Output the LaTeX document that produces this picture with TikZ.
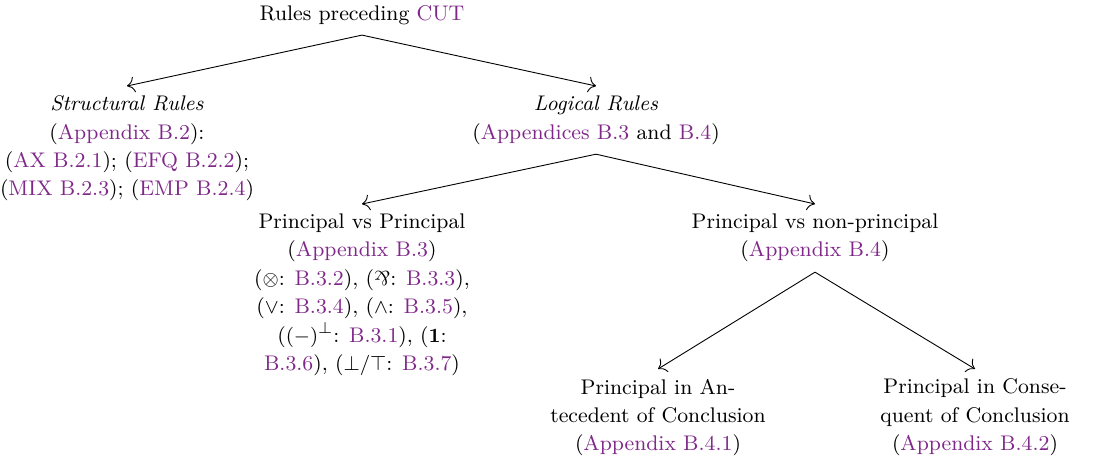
\documentclass[tikz,border=0pt]{standalone}
\usepackage{amsmath,amssymb}
\usepackage{graphicx}
\usetikzlibrary{arrows.meta}
\definecolor{acmpurple}{RGB}{128,40,138}
\newcommand{\lk}[1]{\textcolor{acmpurple}{#1}}
\newcommand{\myparr}{\mathbin{\rotatebox[origin=c]{180}{$\&$}}}
\begin{document}
\begin{tikzpicture}[x=0.444pt,y=-0.444pt]
\tikzset{
  tn/.style={align=center,font=\fontsize{9.4}{12.6}\selectfont,inner xsep=2pt,inner ysep=4.2pt,anchor=north},
  arr/.style={-{To[scale=1.35]},line width=0.4pt}
}
\useasboundingbox (0,0) rectangle (1095,466);
\node[tn] (root) at (362,-4) {Rules preceding \lk{CUT}};
\node[tn] (struct) at (127,86) {\textit{Structural Rules}\\(\lk{Appendix B.2}):\\(\lk{AX B.2.1}); (\lk{EFQ B.2.2});\\(\lk{MIX B.2.3}); (\lk{EMP B.2.4})};
\node[tn] (logic) at (596,86) {\textit{Logical Rules}\\(\lk{Appendices B.3} and \lk{B.4})};
\node[tn] (pvp) at (362,204) {Principal vs Principal\\(\lk{Appendix B.3})\\($\otimes$: \lk{B.3.2}), ($\myparr$: \lk{B.3.3}),\\($\vee$: \lk{B.3.4}), ($\wedge$: \lk{B.3.5}),\\($(-)^{\perp}$: \lk{B.3.1}), ($\mathbf{1}$:\\\lk{B.3.6}), ($\bot/\top$: \lk{B.3.7})};
\node[tn] (pvnp) at (815,204) {Principal vs non-principal\\(\lk{Appendix B.4})};
\node[tn] (pina) at (658,369) {Principal in An-\\tecedent of Conclusion\\(\lk{Appendix B.4.1})};
\node[tn] (pinc) at (975,369) {Principal in Conse-\\quent of Conclusion\\(\lk{Appendix B.4.2})};
\draw[arr] (root.south) -- (struct.north);
\draw[arr] (root.south) -- (logic.north);
\draw[arr] (logic.south) -- (pvp.north);
\draw[arr] (logic.south) -- (pvnp.north);
\draw[arr] (pvnp.south) -- (pina.north);
\draw[arr] (pvnp.south) -- (pinc.north);
\end{tikzpicture}
\end{document}
